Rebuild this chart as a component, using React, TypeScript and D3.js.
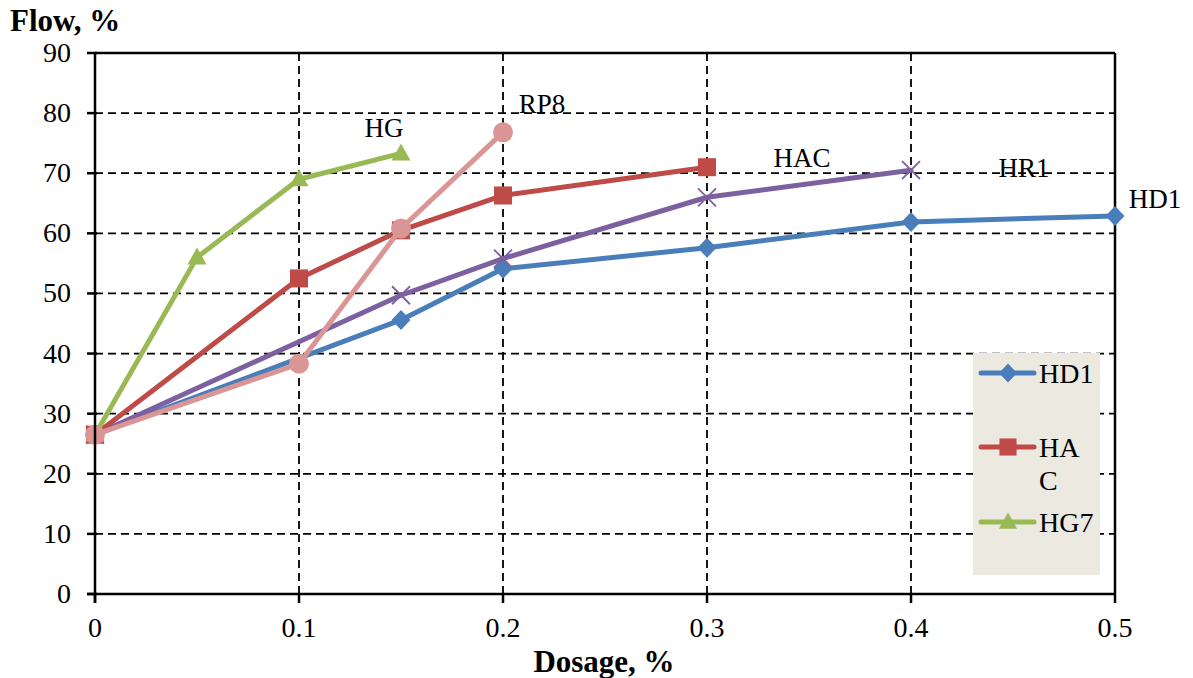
import React from "react";
import * as d3 from "d3";

// Flow (%) versus dosage (%) for five admixtures
const hd1Dosage = [0, 0.15, 0.2, 0.3, 0.4, 0.5];
const hd1Flow = [26.5, 45.6, 54.1, 57.6, 61.9, 62.9];
const hacDosage = [0, 0.1, 0.15, 0.2, 0.3];
const hacFlow = [26.5, 52.5, 60.5, 66.3, 71.0];
const hg7Dosage = [0, 0.05, 0.1, 0.15];
const hg7Flow = [26.5, 56.0, 69.0, 73.3];
const hr1Dosage = [0, 0.15, 0.2, 0.3, 0.4];
const hr1Flow = [26.5, 49.7, 55.8, 66.0, 70.5];
const rp8Dosage = [0, 0.1, 0.15, 0.2];
const rp8Flow = [26.5, 38.3, 60.8, 76.8];

const xTicks = [0, 0.1, 0.2, 0.3, 0.4, 0.5];
const yTicks = [0, 10, 20, 30, 40, 50, 60, 70, 80, 90];

type Marker = "diamond" | "square" | "triangle" | "x" | "circle";
interface Series {
  name: string;
  xs: number[];
  ys: number[];
  color: string;
  marker: Marker;
}

const series: Series[] = [
  { name: "HD1", xs: hd1Dosage, ys: hd1Flow, color: "#4A7EBB", marker: "diamond" },
  { name: "HR1", xs: hr1Dosage, ys: hr1Flow, color: "#7D60A0", marker: "x" },
  { name: "HAC", xs: hacDosage, ys: hacFlow, color: "#BE4B48", marker: "square" },
  { name: "HG7", xs: hg7Dosage, ys: hg7Flow, color: "#98B954", marker: "triangle" },
  { name: "RP8", xs: rp8Dosage, ys: rp8Flow, color: "#D99694", marker: "circle" },
];

// Text annotations placed in data space (baseline position)
const annotations = [
  { text: "HG", x: 0.1417, y: 76.0 },
  { text: "RP8", x: 0.2191, y: 80.0 },
  { text: "HAC", x: 0.3466, y: 71.0 },
  { text: "HR1", x: 0.4554, y: 69.4 },
  { text: "HD1", x: 0.5196, y: 64.2 },
];

const legendItems = [
  { lines: ["HD1"], color: "#4A7EBB", marker: "diamond" as Marker },
  { lines: ["HA", "C"], color: "#BE4B48", marker: "square" as Marker },
  { lines: ["HG7"], color: "#98B954", marker: "triangle" as Marker },
];

const W = 1193;
const H = 678;
const left = 95;
const right = 1115;
const top = 53;
const bottom = 594;
const serif = "'Liberation Serif', 'Times New Roman', serif";

function MarkerShape({ type, x, y, color, s = 1 }: { type: Marker; x: number; y: number; color: string; s?: number }) {
  switch (type) {
    case "diamond":
      return <path d={`M${x},${y - 10 * s}L${x + 9.5 * s},${y}L${x},${y + 10 * s}L${x - 9.5 * s},${y}Z`} fill={color} />;
    case "square":
      return <rect x={x - 9 * s} y={y - 9 * s} width={18 * s} height={18 * s} fill={color} />;
    case "triangle":
      return <path d={`M${x},${y - 10 * s}L${x + 9.5 * s},${y + 7 * s}L${x - 9.5 * s},${y + 7 * s}Z`} fill={color} />;
    case "x":
      return (
        <path
          d={`M${x - 9},${y - 9}L${x + 9},${y + 9}M${x - 9},${y + 9}L${x + 9},${y - 9}`}
          stroke={color}
          strokeWidth={1.8}
        />
      );
    case "circle":
      return <circle cx={x} cy={y} r={10 * s} fill={color} />;
  }
}

export default function App() {
  const xScale = d3.scaleLinear().domain([0, 0.5]).range([left, right]);
  const yScale = d3.scaleLinear().domain([0, 90]).range([bottom, top]);
  const line = d3
    .line<[number, number]>()
    .x((d) => xScale(d[0]))
    .y((d) => yScale(d[1]));

  return (
    <svg width={W} height={H} style={{ position: "absolute", left: 0, top: 0, background: "#fff" }}>
      {/* grid */}
      {yTicks.slice(1, -1).map((t) => (
        <line
          key={`gy${t}`}
          x1={left}
          x2={right}
          y1={yScale(t)}
          y2={yScale(t)}
          stroke="#000"
          strokeWidth={1.8}
          strokeDasharray="8,5"
        />
      ))}
      {xTicks.slice(1, -1).map((t) => (
        <line
          key={`gx${t}`}
          x1={xScale(t)}
          x2={xScale(t)}
          y1={top}
          y2={bottom}
          stroke="#000"
          strokeWidth={1.8}
          strokeDasharray="8,5"
        />
      ))}
      {/* plot frame */}
      <line x1={left} x2={right} y1={top} y2={top} stroke="#000" strokeWidth={2.5} />
      <line x1={right} x2={right} y1={top} y2={bottom} stroke="#000" strokeWidth={2.5} />

      {/* legend box */}
      <rect x={973} y={353} width={127} height={222} fill="#ECEAE0" />
      {legendItems.map((it, i) => {
        const cy = [373, 447, 522][i];
        return (
          <g key={it.lines[0]}>
            <line x1={981} x2={1034} y1={cy} y2={cy} stroke={it.color} strokeWidth={5} strokeLinecap="round" />
            <MarkerShape type={it.marker} x={1008} y={cy} color={it.color} s={0.95} />
            {it.lines.map((ln, j) => (
              <text key={j} x={1039} y={cy + 10 + j * 33} fontFamily={serif} fontSize={28} fill="#000">
                {ln}
              </text>
            ))}
          </g>
        );
      })}

      {/* series */}
      {series.map((s) => {
        const pts = s.xs.map((x, i) => [x, s.ys[i]] as [number, number]);
        return (
          <g key={s.name}>
            <path d={line(pts) ?? ""} fill="none" stroke={s.color} strokeWidth={5} strokeLinejoin="round" strokeLinecap="round" />
            {pts.map((p, i) => (
              <MarkerShape key={i} type={s.marker} x={xScale(p[0])} y={yScale(p[1])} color={s.color} />
            ))}
          </g>
        );
      })}

      {/* axes */}
      <line x1={left} x2={left} y1={top} y2={bottom + 9} stroke="#000" strokeWidth={2.5} />
      <line x1={left - 8} x2={right} y1={bottom} y2={bottom} stroke="#000" strokeWidth={2.5} />
      {yTicks.map((t) => (
        <g key={`ty${t}`}>
          <line x1={left - 8} x2={left + 2} y1={yScale(t)} y2={yScale(t)} stroke="#000" strokeWidth={2.5} />
          <text x={left - 24} y={yScale(t) + 9} textAnchor="end" fontFamily={serif} fontSize={28} fill="#000">
            {t}
          </text>
        </g>
      ))}
      {xTicks.map((t) => (
        <g key={`tx${t}`}>
          <line x1={xScale(t)} x2={xScale(t)} y1={bottom} y2={bottom + 9} stroke="#000" strokeWidth={2.5} />
          <text x={xScale(t)} y={bottom + 43} textAnchor="middle" fontFamily={serif} fontSize={28} fill="#000">
            {t === 0 ? "0" : String(t)}
          </text>
        </g>
      ))}

      {/* annotations */}
      {annotations.map((a) => (
        <text key={a.text} x={xScale(a.x)} y={yScale(a.y)} textAnchor="middle" fontFamily={serif} fontSize={27} fill="#000">
          {a.text}
        </text>
      ))}

      {/* axis titles */}
      <text x={10} y={31} fontFamily={serif} fontSize={31} fontWeight="bold" fill="#000">
        Flow, %
      </text>
      <text x={604} y={672} textAnchor="middle" fontFamily={serif} fontSize={31} fontWeight="bold" fill="#000">
        Dosage, %
      </text>
    </svg>
  );
}
